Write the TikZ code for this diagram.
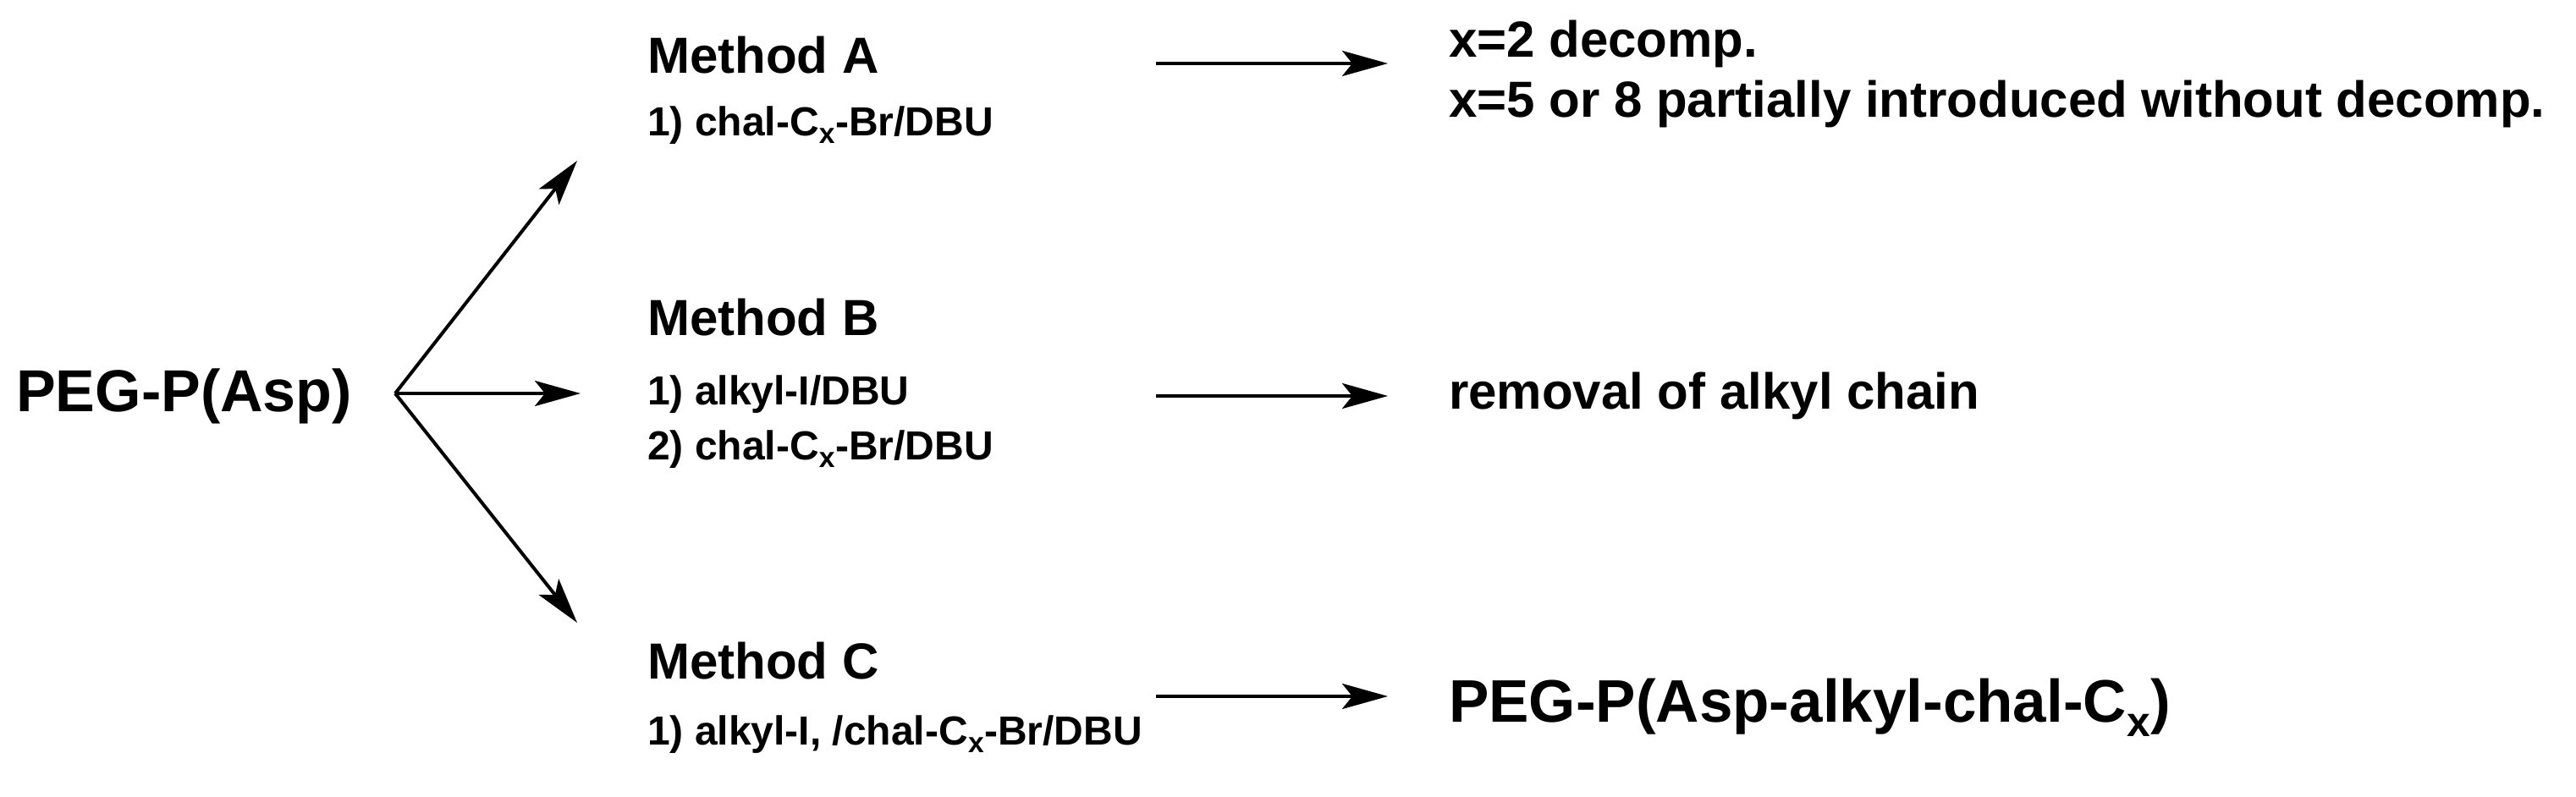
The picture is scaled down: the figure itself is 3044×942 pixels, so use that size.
\documentclass[tikz,border=0pt]{standalone}
\usepackage{fontspec}
\setmainfont{Liberation Sans}
\usetikzlibrary{arrows.meta}
\begin{document}
\begin{tikzpicture}[x=1pt,y=-1pt,
  txt/.style={anchor=base west,inner sep=0pt,font=\bfseries\fontsize{#1}{#1}\selectfont},
  arr/.style={line width=4pt,-{Stealth[length=54pt,width=30pt,inset=12pt]}}]
\useasboundingbox (0,0) rectangle (3044,942);
\node[txt=70] (peg) at (19,486) {PEG-P(Asp)};
\coordinate (p) at (467,465);
\coordinate (ea) at (682,190);
\coordinate (eb) at (686,465);
\coordinate (ec) at (682,736);
\draw[arr] (p) -- (ea);
\draw[arr] (p) -- (eb);
\draw[arr] (p) -- (ec);
\node[txt=60] (ma) at (765,87) {Method A};
\node[txt=48] (ma1) at (765,160) {1) chal-C\textsubscript{x}-Br/DBU};
\node[txt=60] (mb) at (765,396) {Method B};
\node[txt=48] (mb1) at (765,478) {1) alkyl-I/DBU};
\node[txt=48] (mb2) at (765,543) {2) chal-C\textsubscript{x}-Br/DBU};
\node[txt=60] (mc) at (765,802) {Method C};
\node[txt=48] (mc1) at (765,880) {1) alkyl-I, /chal-C\textsubscript{x}-Br/DBU};
\coordinate (a1) at (1366,75); \coordinate (a2) at (1640,75);
\coordinate (b1) at (1366,468); \coordinate (b2) at (1640,468);
\coordinate (c1) at (1366,823); \coordinate (c2) at (1640,823);
\draw[arr] (a1) -- (a2);
\draw[arr] (b1) -- (b2);
\draw[arr] (c1) -- (c2);
\node[txt=60] (ra1) at (1712,67) {x=2 decomp.};
\node[txt=60] (ra2) at (1712,138) {x=5 or 8 partially introduced without decomp.};
\node[txt=60] (rb) at (1712,483) {removal of alkyl chain};
\node[txt=71] (rc) at (1712,853) {PEG-P(Asp-alkyl-chal-C\textsubscript{x})};
\end{tikzpicture}
\end{document}
